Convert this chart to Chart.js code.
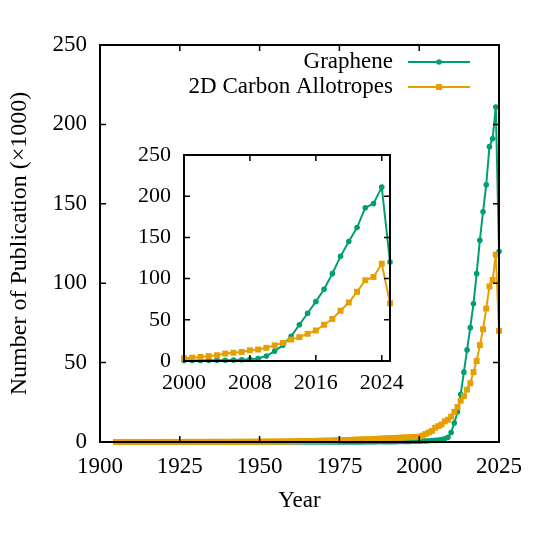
<!DOCTYPE html>
<html>
<head>
<meta charset="utf-8">
<title>Publications</title>
<script src="https://cdn.jsdelivr.net/npm/chart.js@4/dist/chart.umd.min.js"></script>
<style>
  body { margin: 0; background: #fff; }
  #wrap { position: relative; width: 540px; height: 540px; }
  #main { position: absolute; left: 0; top: 0; }
  #inset { position: absolute; left: 130px; top: 141px; }
</style>
</head>
<body>
<div id="wrap">
  <canvas id="main" width="540" height="540"></canvas>
  <canvas id="inset" width="280" height="259"></canvas>
</div>
<script>
const years = [
  1905, 1906, 1907, 1908, 1909, 1910, 1911, 1912, 1913, 1914,
  1915, 1916, 1917, 1918, 1919, 1920, 1921, 1922, 1923, 1924,
  1925, 1926, 1927, 1928, 1929, 1930, 1931, 1932, 1933, 1934,
  1935, 1936, 1937, 1938, 1939, 1940, 1941, 1942, 1943, 1944,
  1945, 1946, 1947, 1948, 1949, 1950, 1951, 1952, 1953, 1954,
  1955, 1956, 1957, 1958, 1959, 1960, 1961, 1962, 1963, 1964,
  1965, 1966, 1967, 1968, 1969, 1970, 1971, 1972, 1973, 1974,
  1975, 1976, 1977, 1978, 1979, 1980, 1981, 1982, 1983, 1984,
  1985, 1986, 1987, 1988, 1989, 1990, 1991, 1992, 1993, 1994,
  1995, 1996, 1997, 1998, 1999, 2000, 2001, 2002, 2003, 2004,
  2005, 2006, 2007, 2008, 2009, 2010, 2011, 2012, 2013, 2014,
  2015, 2016, 2017, 2018, 2019, 2020, 2021, 2022, 2023, 2024,
  2025
];

// thousands of publications per year
const graphene = [
  0, 0, 0, 0, 0, 0, 0, 0, 0, 0,
  0, 0, 0, 0, 0, 0, 0, 0, 0, 0,
  0, 0, 0, 0, 0, 0, 0, 0, 0, 0,
  0, 0, 0, 0, 0, 0, 0, 0, 0, 0,
  0, 0, 0, 0, 0, 0, 0, 0, 0, 0,
  0.01, 0.01, 0.01, 0.01, 0.01, 0.01, 0.01, 0.01, 0.01, 0.01,
  0.02, 0.02, 0.02, 0.02, 0.02, 0.02, 0.02, 0.03, 0.03, 0.03,
  0.03, 0.03, 0.04, 0.04, 0.05, 0.05, 0.06, 0.07, 0.08, 0.09,
  0.1, 0.11, 0.12, 0.14, 0.16, 0.18, 0.2, 0.22, 0.25, 0.28,
  0.31, 0.35, 0.39, 0.44, 0.5, 0.5, 0.6, 0.7, 0.8, 0.9,
  1.0, 1.2, 1.5, 2, 3, 6, 12, 19, 30, 44,
  58, 72, 87, 106, 127, 145, 162, 186, 191, 211,
  120
];

const allotropes = [
  0.02, 0.02, 0.02, 0.03, 0.03, 0.03, 0.03, 0.04, 0.04, 0.04,
  0.04, 0.05, 0.05, 0.05, 0.05, 0.06, 0.06, 0.06, 0.07, 0.07,
  0.07, 0.08, 0.08, 0.08, 0.09, 0.09, 0.1, 0.1, 0.1, 0.11,
  0.11, 0.12, 0.12, 0.13, 0.13, 0.14, 0.14, 0.15, 0.16, 0.17,
  0.18, 0.19, 0.2, 0.21, 0.22, 0.23, 0.25, 0.26, 0.28, 0.3,
  0.32, 0.34, 0.36, 0.38, 0.4, 0.43, 0.46, 0.49, 0.52, 0.56,
  0.6, 0.64, 0.68, 0.72, 0.77, 0.82, 0.87, 0.92, 0.98, 1.04,
  1.1, 1.17, 1.24, 1.31, 1.38, 1.46, 1.54, 1.62, 1.7, 1.79,
  1.88, 1.97, 2.06, 2.15, 2.24, 2.33, 2.42, 2.52, 2.62, 2.72,
  2.82, 2.92, 3.02, 3.12, 3.22, 3.3, 4, 5, 6, 7,
  9, 10, 11, 13, 14, 16, 19, 22, 26, 29,
  33, 37, 44, 51, 61, 71, 84, 98, 102, 118,
  70
];

const seriesNames = ["Graphene", "2D Carbon Allotropes"];
const mainXTicks = [1900, 1925, 1950, 1975, 2000, 2025];
const insetXTicks = [2000, 2008, 2016, 2024];
const yTicks = [0, 50, 100, 150, 200, 250];

const GREEN = "#009e73";
const ORANGE = "#e69f00";
const FONT = "'Liberation Serif', 'Times New Roman', serif";

function points(vals, from) {
  const out = [];
  for (let i = 0; i < years.length; i++) {
    if (years[i] >= from) out.push({ x: years[i], y: vals[i] });
  }
  return out;
}

function makeDatasets(from) {
  return [
    {
      label: seriesNames[0],
      data: points(graphene, from),
      borderColor: GREEN,
      backgroundColor: GREEN,
      borderWidth: 2,
      pointStyle: "circle",
      pointRadius: 2.8,
      pointBorderWidth: 0,
      tension: 0,
      clip: false,
      order: 1
    },
    {
      label: seriesNames[1],
      data: points(allotropes, from),
      borderColor: ORANGE,
      backgroundColor: ORANGE,
      borderWidth: 2,
      pointStyle: "rect",
      pointRadius: 4.2,
      pointBorderWidth: 0,
      tension: 0,
      clip: false,
      order: 0
    }
  ];
}

// gnuplot style box with inward ticks on all sides
const frame = {
  id: "frame",
  afterDatasetsDraw(chart) {
    const { ctx, chartArea: a, scales: { x, y } } = chart;
    ctx.save();
    ctx.strokeStyle = "#000";
    ctx.lineWidth = 1.5;
    ctx.beginPath();
    for (const t of x.ticks) {
      const px = x.getPixelForValue(t.value);
      ctx.moveTo(px, a.bottom); ctx.lineTo(px, a.bottom - 6);
      ctx.moveTo(px, a.top); ctx.lineTo(px, a.top + 6);
    }
    for (const t of y.ticks) {
      const py = y.getPixelForValue(t.value);
      ctx.moveTo(a.left, py); ctx.lineTo(a.left + 6, py);
      ctx.moveTo(a.right, py); ctx.lineTo(a.right - 6, py);
    }
    ctx.stroke();
    ctx.lineWidth = 2;
    ctx.strokeRect(a.left, a.top, a.right - a.left, a.bottom - a.top);
    ctx.restore();
  }
};

// legend: text right aligned, sample line with marker on the right
const keyBox = {
  id: "keyBox",
  afterDatasetsDraw(chart) {
    const ctx = chart.ctx;
    ctx.save();
    ctx.font = "23px " + FONT;
    ctx.textAlign = "right";
    ctx.textBaseline = "middle";
    ctx.fillStyle = "#000";
    const rows = [62, 87];
    chart.data.datasets.forEach((ds, i) => {
      const ty = rows[i];
      ctx.fillText(ds.label, 393, ty);
      ctx.strokeStyle = ds.borderColor;
      ctx.lineWidth = 2;
      ctx.beginPath();
      ctx.moveTo(408, ty); ctx.lineTo(470, ty);
      ctx.stroke();
      ctx.fillStyle = ds.borderColor;
      if (ds.pointStyle === "rect") {
        ctx.fillRect(439 - 3, ty - 3, 6, 6);
      } else {
        ctx.beginPath();
        ctx.arc(439, ty, 2.8, 0, Math.PI * 2);
        ctx.fill();
      }
      ctx.fillStyle = "#000";
    });
    ctx.restore();
  }
};

function setTicks(list) {
  return (scale) => { scale.ticks = list.map(v => ({ value: v })); };
}

function fitX(h) {
  return (s) => { s.height = h; s.paddingLeft = 0; s.paddingRight = 0; };
}

function fitY(w) {
  return (s) => { s.width = w; s.paddingTop = 0; s.paddingBottom = 0; };
}

const plain = (v) => String(v);

new Chart("main", {
  type: "line",
  data: { datasets: makeDatasets(1900) },
  plugins: [frame, keyBox],
  options: {
    responsive: false,
    animation: false,
    layout: { padding: { top: 45, right: 41, left: 0, bottom: 0 } },
    plugins: { legend: { display: false }, tooltip: { enabled: false } },
    scales: {
      x: {
        type: "linear",
        min: 1900,
        max: 2025,
        afterBuildTicks: setTicks(mainXTicks),
        afterFit: fitX(98),
        grid: { display: false, drawTicks: false },
        border: { display: false },
        ticks: { color: "#000", font: { family: FONT, size: 23 }, padding: 11, maxRotation: 0, callback: plain },
        title: { display: true, text: "Year", color: "#000", font: { family: FONT, size: 23 }, padding: { top: 0, bottom: 25 } }
      },
      y: {
        min: 0,
        max: 250,
        afterBuildTicks: setTicks(yTicks),
        afterFit: fitY(100),
        grid: { display: false, drawTicks: false },
        border: { display: false },
        ticks: { color: "#000", font: { family: FONT, size: 23 }, padding: 13, callback: plain },
        title: { display: true, text: "Number of Publication (×1000)", color: "#000", font: { family: FONT, size: 24 }, padding: { top: 5, bottom: 0 } }
      }
    }
  }
});

new Chart("inset", {
  type: "line",
  data: { datasets: makeDatasets(2000) },
  plugins: [frame],
  options: {
    responsive: false,
    animation: false,
    layout: { padding: { top: 14, right: 20, left: 0, bottom: 0 } },
    plugins: { legend: { display: false }, tooltip: { enabled: false } },
    scales: {
      x: {
        type: "linear",
        min: 2000,
        max: 2025,
        afterBuildTicks: setTicks(insetXTicks),
        afterFit: fitX(39),
        grid: { display: false, drawTicks: false },
        border: { display: false },
        ticks: { color: "#000", font: { family: FONT, size: 22 }, padding: 9, maxRotation: 0, callback: plain }
      },
      y: {
        min: 0,
        max: 250,
        afterBuildTicks: setTicks(yTicks),
        afterFit: fitY(54),
        grid: { display: false, drawTicks: false },
        border: { display: false },
        ticks: { color: "#000", font: { family: FONT, size: 22 }, padding: 13, callback: plain }
      }
    }
  }
});
</script>
</body>
</html>
